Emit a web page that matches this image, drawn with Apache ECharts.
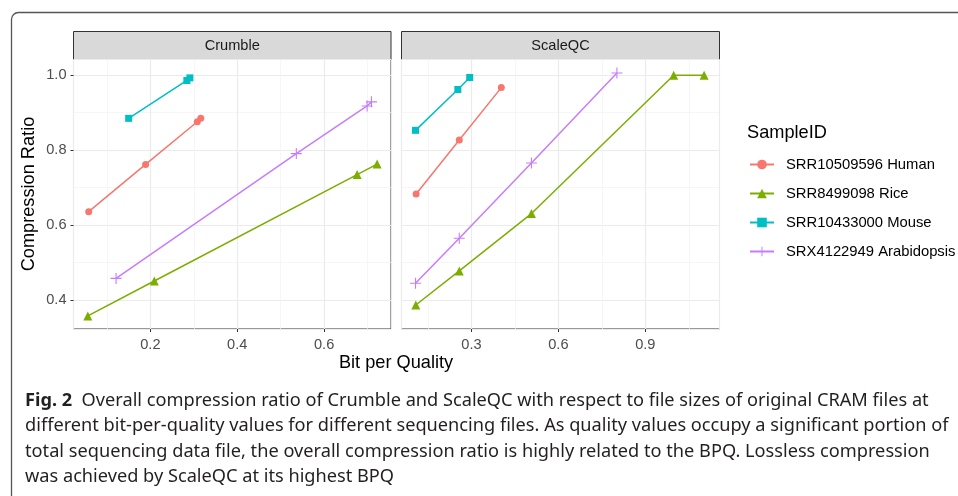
<!DOCTYPE html>
<html><head><meta charset="utf-8">
<script src="https://cdn.jsdelivr.net/npm/echarts@6/dist/echarts.min.js"></script>
<style>html,body{margin:0;padding:0;background:#fff}#c{width:958px;height:496px}</style>
</head><body><div id="c"></div>
<script>
// ---- data ----
const panels = ['Crumble', 'ScaleQC'];
const sampleNames = ['SRR10509596 Human', 'SRR8499098 Rice', 'SRR10433000 Mouse', 'SRX4122949 Arabidopsis'];
const crumbleHuman = [[0.058,0.636],[0.189,0.762],[0.308,0.876],[0.316,0.885]];
const crumbleRice = [[0.056,0.358],[0.209,0.451],[0.676,0.735],[0.722,0.763]];
const crumbleMouse = [[0.150,0.885],[0.284,0.986],[0.291,0.993]];
const crumbleArabidopsis = [[0.121,0.458],[0.536,0.791],[0.699,0.918],[0.709,0.929]];
const scaleqcHuman = [[0.109,0.683],[0.258,0.827],[0.403,0.967]];
const scaleqcRice = [[0.108,0.387],[0.258,0.478],[0.507,0.631],[0.998,1.000],[1.103,1.000]];
const scaleqcMouse = [[0.107,0.853],[0.253,0.962],[0.294,0.994]];
const scaleqcArabidopsis = [[0.107,0.445],[0.258,0.565],[0.507,0.766],[0.802,1.006]];
const crumbleXTicks = [0.2, 0.4, 0.6];
const scaleqcXTicks = [0.3, 0.6, 0.9];
const yTicks = [0.4, 0.6, 0.8, 1.0];
const captionBold = 'Fig. 2';
const captionLines = [
  'Overall compression ratio of Crumble and ScaleQC with respect to file sizes of original CRAM files at',
  'different bit-per-quality values for different sequencing files. As quality values occupy a significant portion of',
  'total sequencing data file, the overall compression ratio is highly related to the BPQ. Lossless compression',
  'was achieved by ScaleQC at its highest BPQ'
];
const panelData = [
  [crumbleHuman, crumbleRice, crumbleMouse, crumbleArabidopsis],
  [scaleqcHuman, scaleqcRice, scaleqcMouse, scaleqcArabidopsis]
];

// ---- styles ----
const colors = ['#F8766D', '#7CAE00', '#00BFC4', '#C77CFF'];
const symbols = ['circle', 'triangle', 'rect', 'path://M0,4.5h10v1h-10zM4.5,0h1v10h-1z'];
const symbolSizes = [7, 9, 7, 11];
const FONT = '"Liberation Sans", Arial, sans-serif';
const grids = [
  {left: 73.5, top: 59.5, width: 317.5, height: 269.5},
  {left: 401.5, top: 59.5, width: 318, height: 269.5}
];
const xRanges = [[0.023, 0.754], [0.0586, 1.156]];
const yRange = [0.323, 1.042];
const xSteps = [crumbleXTicks[1] - crumbleXTicks[0], scaleqcXTicks[1] - scaleqcXTicks[0]];
const ySteps = yTicks[1] - yTicks[0];

function gridStyle(g) {
  return Object.assign({show: true, borderColor: '#333333', borderWidth: 1, backgroundColor: 'transparent', containLabel: false}, g);
}
function valAxis(range, step, showLabels, gridIndex, isY) {
  return {
    type: 'value', gridIndex: gridIndex,
    min: range[0], max: range[1], minInterval: step, maxInterval: step, splitNumber: 4,
    axisLine: {show: false},
    axisTick: {show: showLabels, length: 3, inside: false, lineStyle: {color: '#333333', width: 1}},
    axisLabel: {show: showLabels, showMinLabel: false, showMaxLabel: false, color: '#4D4D4D',
      fontSize: 14.6, fontFamily: FONT, margin: isY ? 7 : 8,
      formatter: v => v.toFixed(1)},
    splitLine: {show: true, lineStyle: {color: '#EBEBEB', width: 1.2}},
    minorTick: {show: false, splitNumber: 2},
    minorSplitLine: {show: true, lineStyle: {color: '#F2F2F2', width: 0.7}}
  };
}

const series = [];
panelData.forEach((arrs, p) => {
  arrs.forEach((d, s) => {
    series.push({
      type: 'line', name: sampleNames[s], xAxisIndex: p, yAxisIndex: p, data: d,
      symbol: symbols[s], symbolSize: symbolSizes[s], showSymbol: true,
      itemStyle: {color: colors[s]}, lineStyle: {color: colors[s], width: 1.5},
      emphasis: {disabled: true}, silent: true, z: 3
    });
  });
});

const graphics = [
  {type: 'rect', shape: {x: 11.5, y: 12.5, width: 1000, height: 600, r: 7}, style: {fill: 'none', stroke: '#555555', lineWidth: 1.3}, silent: true}
];
panels.forEach((name, p) => {
  const g = grids[p];
  graphics.push({type: 'rect', shape: {x: g.left, y: 31.5, width: g.width, height: g.top - 31.5},
    style: {fill: '#D9D9D9', stroke: '#333333', lineWidth: 1}, silent: true});
  graphics.push({type: 'text', x: g.left + g.width / 2, y: (31.5 + g.top) / 2,
    style: {text: name, fill: '#1A1A1A', font: '14.6px ' + FONT, textAlign: 'center', textVerticalAlign: 'middle'}, silent: true});
});
graphics.push({type: 'text', x: 396, y: 363, style: {text: 'Bit per Quality', fill: '#000', font: '18.2px ' + FONT, textAlign: 'center', textVerticalAlign: 'middle'}});
graphics.push({type: 'text', x: 29, y: 194, rotation: Math.PI / 2, style: {text: 'Compression Ratio', fill: '#000', font: '18.2px ' + FONT, textAlign: 'center', textVerticalAlign: 'middle'}});
graphics.push({type: 'text', x: 747, y: 133, style: {text: 'SampleID', fill: '#000', font: '18.2px ' + FONT, textAlign: 'left', textVerticalAlign: 'middle'}});
const CAPFONT = '"Noto Sans", "Open Sans", sans-serif';
const CAPSIZE = 18.2;
captionLines.forEach((line, i) => {
  graphics.push({type: 'text', x: 25, y: 401 + i * 25.2, style: {
    text: i === 0 ? '{b|' + captionBold + '}  ' + line : line,
    fill: '#231F20', fontSize: CAPSIZE, fontFamily: CAPFONT, textVerticalAlign: 'middle',
    rich: {b: {fontWeight: 'bold', fontSize: CAPSIZE, fontFamily: CAPFONT, fill: '#231F20'}}
  }});
});

const chart = echarts.init(document.getElementById('c'), null, {renderer: 'canvas'});
chart.setOption({
  animation: false,
  backgroundColor: '#ffffff',
  grid: grids.map(gridStyle),
  xAxis: [valAxis(xRanges[0], xSteps[0], true, 0, false), valAxis(xRanges[1], xSteps[1], true, 1, false)],
  yAxis: [valAxis(yRange, ySteps, true, 0, true), valAxis(yRange, ySteps, false, 1, true)],
  legend: {
    orient: 'vertical', left: 749, top: 157, padding: 0, itemWidth: 24, itemHeight: 12, itemGap: 14,
    data: sampleNames,
    textStyle: {fontSize: 14.8, fontFamily: FONT, color: '#000', padding: [0, 0, 0, 7]},
    selectedMode: false
  },
  graphic: graphics,
  series: series
});
</script></body></html>
